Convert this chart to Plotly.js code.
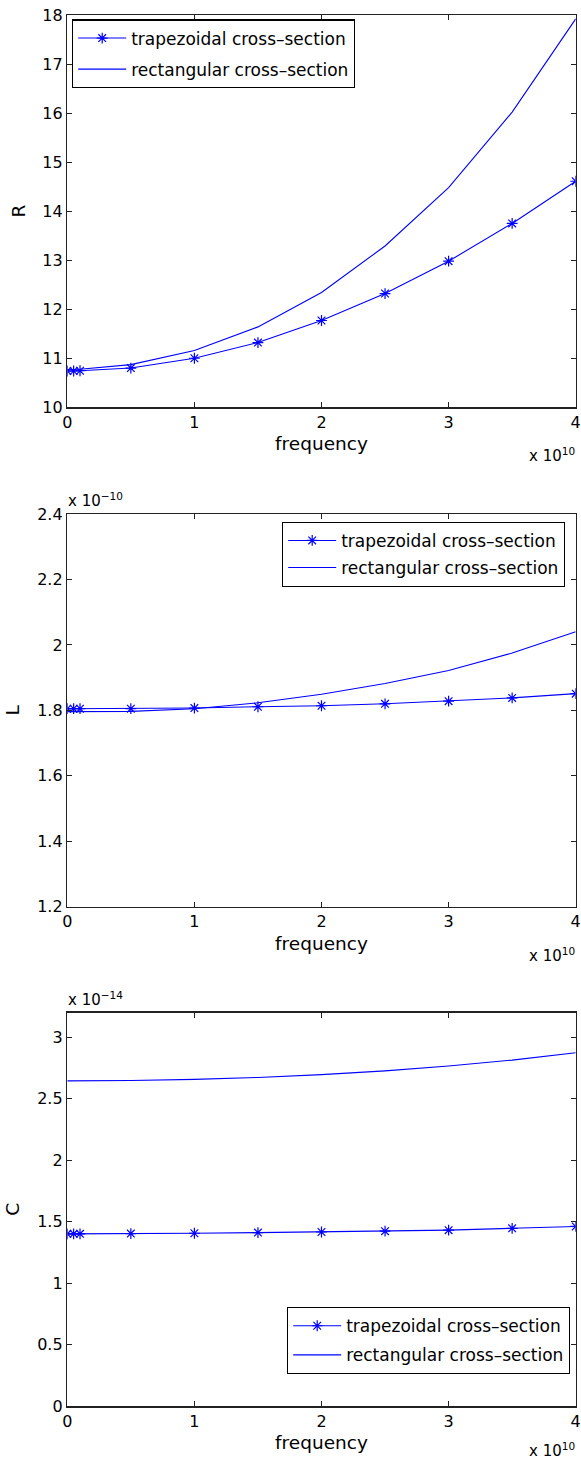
<!DOCTYPE html>
<html>
<head>
<meta charset="utf-8">
<script src="https://cdn.plot.ly/plotly-3.0.1.min.js"></script>
<style>html,body{margin:0;padding:0;background:#fff;}#chart{width:581px;height:1463px;}</style>
</head>
<body>
<div id="chart"></div>
<script>
// ---- data ----
const freq = [0, 5e8, 1e9, 5e9, 1e10, 1.5e10, 2e10, 2.5e10, 3e10, 3.5e10, 4e10];

const R_trap = [10.74, 10.74, 10.745, 10.80, 11.00, 11.32, 11.77, 12.32, 12.98, 13.75, 14.61];
const R_rect = [10.77, 10.77, 10.775, 10.87, 11.16, 11.64, 12.34, 13.29, 14.48, 16.02, 17.92];

const L_trap = [1.805e-10, 1.805e-10, 1.805e-10, 1.805e-10, 1.807e-10, 1.811e-10, 1.814e-10, 1.820e-10, 1.828e-10, 1.838e-10, 1.851e-10];
const L_rect = [1.796e-10, 1.796e-10, 1.796e-10, 1.797e-10, 1.805e-10, 1.823e-10, 1.849e-10, 1.882e-10, 1.922e-10, 1.975e-10, 2.040e-10];

const C_trap = [1.400e-14, 1.400e-14, 1.400e-14, 1.402e-14, 1.405e-14, 1.410e-14, 1.415e-14, 1.422e-14, 1.430e-14, 1.445e-14, 1.460e-14];
const C_rect = [2.644e-14, 2.644e-14, 2.644e-14, 2.647e-14, 2.656e-14, 2.672e-14, 2.695e-14, 2.725e-14, 2.765e-14, 2.813e-14, 2.873e-14];

const seriesNames = ['trapezoidal cross\u2013section', 'rectangular cross\u2013section'];

const xTickVals = [0, 1e10, 2e10, 3e10, 4e10];
const xTickText = ['0', '1', '2', '3', '4'];

const RTickVals = [10, 11, 12, 13, 14, 15, 16, 17, 18];
const RTickText = ['10', '11', '12', '13', '14', '15', '16', '17', '18'];
const LTickVals = [1.2e-10, 1.4e-10, 1.6e-10, 1.8e-10, 2.0e-10, 2.2e-10, 2.4e-10];
const LTickText = ['1.2', '1.4', '1.6', '1.8', '2', '2.2', '2.4'];
const CTickVals = [0, 0.5e-14, 1e-14, 1.5e-14, 2e-14, 2.5e-14, 3e-14];
const CTickText = ['0', '0.5', '1', '1.5', '2', '2.5', '3'];

// ---- styling ----
const W = 581, H = 1463;
const FONT = 'DejaVu Sans, Arial, sans-serif';
const BLUE = 'rgb(0,0,255)';
const px = v => v / W;
const py = v => 1 - v / H;

const xDom = [px(67.3), px(575.7)];
const panels = [
  {top: 15, bottom: 407.3},
  {top: 514, bottom: 906.7},
  {top: 1012.5, bottom: 1406}
];

function trapTrace(y, xa, ya, lg) {
  return {x: freq, y: y, xaxis: xa, yaxis: ya, type: 'scatter', mode: 'lines+markers',
    name: seriesNames[0], legend: lg, legendgroup: lg + 'a',
    line: {color: BLUE, width: 1.1},
    marker: {symbol: 'asterisk-open', size: 9, color: BLUE, line: {color: BLUE, width: 1.2}}};
}
function rectTrace(y, xa, ya, lg) {
  return {x: freq, y: y, xaxis: xa, yaxis: ya, type: 'scatter', mode: 'lines',
    name: seriesNames[1], legend: lg, legendgroup: lg + 'b',
    line: {color: BLUE, width: 1.1}};
}

const data = [
  trapTrace(R_trap, 'x', 'y', 'legend'), rectTrace(R_rect, 'x', 'y', 'legend'),
  trapTrace(L_trap, 'x2', 'y2', 'legend2'), rectTrace(L_rect, 'x2', 'y2', 'legend2'),
  trapTrace(C_trap, 'x3', 'y3', 'legend3'), rectTrace(C_rect, 'x3', 'y3', 'legend3')
];

function xAxis(i) {
  return {domain: xDom, anchor: i === 1 ? 'y' : 'y' + i, range: [0, 4e10],
    tickvals: xTickVals, ticktext: xTickText, ticks: 'inside', ticklen: 5, tickwidth: 1,
    tickcolor: '#222', showline: true, linecolor: '#222', linewidth: 1.5, mirror: 'ticks',
    showgrid: false, zeroline: false, tickfont: {family: FONT, size: 16, color: '#000'},
    title: {text: 'frequency', font: {family: FONT, size: 18.5, color: '#000'}, standoff: 6},
    automargin: false};
}
function yAxis(i, range, tv, tt, title) {
  const p = panels[i - 1];
  return {domain: [py(p.bottom), py(p.top)], anchor: i === 1 ? 'x' : 'x' + i, range: range,
    tickvals: tv, ticktext: tt, ticks: 'inside', ticklen: 5, tickwidth: 1,
    tickcolor: '#222', showline: true, linecolor: '#222', linewidth: 1.5, mirror: 'ticks',
    showgrid: false, zeroline: false, tickfont: {family: FONT, size: 16, color: '#000'},
    title: {text: title, font: {family: FONT, size: 18.5, color: '#000'}, standoff: 12},
    automargin: false};
}

const legendBase = {bgcolor: '#fff', bordercolor: '#000', borderwidth: 1.2, itemwidth: 48,
  font: {family: FONT, size: 17, color: '#000'}, traceorder: 'grouped', xref: 'paper', yref: 'paper'};

const layout = {
  width: W, height: H,
  margin: {l: 0, r: 0, t: 0, b: 0},
  paper_bgcolor: '#fff', plot_bgcolor: '#fff',
  showlegend: true,
  xaxis: xAxis(1), xaxis2: xAxis(2), xaxis3: xAxis(3),
  yaxis: yAxis(1, [10, 18], RTickVals, RTickText, 'R'),
  yaxis2: yAxis(2, [1.2e-10, 2.4e-10], LTickVals, LTickText, 'L'),
  yaxis3: yAxis(3, [0, 3.2e-14], CTickVals, CTickText, 'C'),
  legend: Object.assign({}, legendBase, {x: px(72), y: py(19.3), xanchor: 'left', yanchor: 'top', tracegroupgap: 6}),
  legend2: Object.assign({}, legendBase, {x: px(565), y: py(521.7), xanchor: 'right', yanchor: 'top', tracegroupgap: 2}),
  legend3: Object.assign({}, legendBase, {x: px(570), y: py(1374), xanchor: 'right', yanchor: 'bottom', tracegroupgap: 4}),
  annotations: [
    {xref: 'paper', yref: 'paper', x: px(577), y: py(455), xanchor: 'right', yanchor: 'middle', showarrow: false,
     text: 'x 10<sup>10</sup>', font: {family: FONT, size: 15, color: '#000'}},
    {xref: 'paper', yref: 'paper', x: px(577), y: py(955), xanchor: 'right', yanchor: 'middle', showarrow: false,
     text: 'x 10<sup>10</sup>', font: {family: FONT, size: 15, color: '#000'}},
    {xref: 'paper', yref: 'paper', x: px(577), y: py(1450), xanchor: 'right', yanchor: 'middle', showarrow: false,
     text: 'x 10<sup>10</sup>', font: {family: FONT, size: 15, color: '#000'}},
    {xref: 'paper', yref: 'paper', x: px(66), y: py(500), xanchor: 'left', yanchor: 'middle', showarrow: false,
     text: 'x 10<sup>\u221210</sup>', font: {family: FONT, size: 15, color: '#000'}},
    {xref: 'paper', yref: 'paper', x: px(66), y: py(999), xanchor: 'left', yanchor: 'middle', showarrow: false,
     text: 'x 10<sup>\u221214</sup>', font: {family: FONT, size: 15, color: '#000'}}
  ]
};

Plotly.newPlot('chart', data, layout, {staticPlot: true, displayModeBar: false});
</script>
</body>
</html>
